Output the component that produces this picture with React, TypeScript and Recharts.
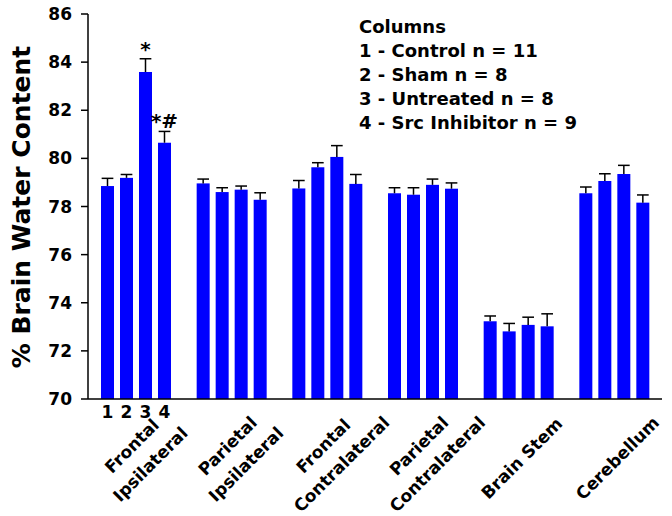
import React from 'react';
import { BarChart, Bar, XAxis, YAxis, LabelList, Customized } from 'recharts';

const categories = [
  'Frontal\nIpsilateral',
  'Parietal\nIpsilateral',
  'Frontal\nContralateral',
  'Parietal\nContralateral',
  'Brain Stem',
  'Cerebellum',
];

// group means (% brain water)
const control = [78.85, 78.96, 78.75, 78.55, 73.23, 78.55];
const sham = [79.19, 78.6, 79.63, 78.49, 72.81, 79.06];
const untreated = [83.59, 78.7, 80.06, 78.9, 73.08, 79.35];
const srcInhibitor = [80.65, 78.28, 78.94, 78.74, 73.02, 78.16];

// SEM, drawn upward only
const controlErr = [0.32, 0.18, 0.33, 0.23, 0.22, 0.26];
const shamErr = [0.14, 0.18, 0.19, 0.29, 0.33, 0.3];
const untreatedErr = [0.55, 0.15, 0.47, 0.24, 0.32, 0.36];
const srcInhibitorErr = [0.47, 0.29, 0.39, 0.24, 0.52, 0.32];

const untreatedMarks = ['*', '', '', '', '', ''];
const srcInhibitorMarks = ['*#', '', '', '', '', ''];

const yTicks = [70, 72, 74, 76, 78, 80, 82, 84, 86];

const legendLines = [
  'Columns',
  '1 - Control n = 11',
  '2 - Sham n = 8',
  '3 - Untreated n = 8',
  '4 - Src Inhibitor n = 9',
];

const Y_MIN = 70;
const FONT = '"DejaVu Sans", sans-serif';
const BLUE = '#0000ff';

const data = categories.map((name, i) => ({
  name,
  control: control[i],
  sham: sham[i],
  untreated: untreated[i],
  srcInhibitor: srcInhibitor[i],
  controlErr: controlErr[i],
  shamErr: shamErr[i],
  untreatedErr: untreatedErr[i],
  srcInhibitorErr: srcInhibitorErr[i],
  untreatedMark: untreatedMarks[i],
  srcInhibitorMark: srcInhibitorMarks[i],
}));

const makeBarShape = (valueKey: string, errKey: string) => (props: any) => {
  const { x, y, width, height, payload } = props;
  const value = payload[valueKey];
  const pxPerUnit = height / (value - Y_MIN);
  const errPx = payload[errKey] * pxPerUnit;
  const cx = x + width / 2;
  const cap = width * 0.45;
  return (
    <g>
      <rect x={x} y={y} width={width} height={height} fill={BLUE} />
      <line x1={cx} y1={y} x2={cx} y2={y - errPx} stroke="#000" strokeWidth={1.5} />
      <line x1={cx - cap} y1={y - errPx} x2={cx + cap} y2={y - errPx} stroke="#000" strokeWidth={1.5} />
    </g>
  );
};

const makeMark = (values: number[], errs: number[], marks: string[]) => (props: any) => {
  const { x, y, width, height, index } = props;
  const mark = marks[index];
  if (!mark) return null;
  const pxPerUnit = height / (values[index] - Y_MIN);
  const top = y - errs[index] * pxPerUnit;
  return (
    <text x={x + width / 2} y={top - 3} textAnchor="middle" fontFamily={FONT} fontWeight="bold" fontSize={20} fill="#000">
      {mark}
    </text>
  );
};

const makeColumnNumber = (num: string) => (props: any) => {
  const { x, y, width, height, index } = props;
  if (index !== 0) return null;
  return (
    <text x={x + width / 2} y={y + height + 19} textAnchor="middle" fontFamily={FONT} fontWeight="bold" fontSize={17} fill="#000">
      {num}
    </text>
  );
};

// category label hung off the 2nd bar of each group (group centre = right edge of bar 2 + half the gap)
const renderCategory = (props: any) => {
  const { x, y, width, height, index } = props;
  const lines = categories[index].split('\n');
  const lh = 26;
  const twoLine = lines.length > 1;
  const cx = x + width + 3 + (twoLine ? 5 : 3);
  const cy = y + height + (twoLine ? 56 : 59);
  return (
    <g transform={`translate(${cx} ${cy})`}>
      <g transform="rotate(-45)">
        {lines.map((line, i) => (
          <text
            key={i}
            x={0}
            y={(i - (lines.length - 1) / 2) * lh}
            dy="0.36em"
            textAnchor="middle"
            fontFamily={FONT}
            fontWeight="bold"
            fontSize={17}
            fill="#000"
          >
            {line}
          </text>
        ))}
      </g>
    </g>
  );
};

const YLabel = () => (
  <text
    transform="translate(30,207) rotate(-90)"
    textAnchor="middle"
    fontFamily={FONT}
    fontWeight="bold"
    fontSize={25}
    fill="#000"
  >
    % Brain Water Content
  </text>
);

const ColumnsLegend = () => (
  <g>
    {legendLines.map((line, i) => (
      <text key={i} x={359} y={33 + i * 24} fontFamily={FONT} fontWeight="bold" fontSize={18} fill="#000">
        {line}
      </text>
    ))}
  </g>
);

export default function App() {
  return (
    <div style={{ position: 'absolute', left: 0, top: 0, width: 672, height: 516, background: '#fff' }}>
      <BarChart
        width={672}
        height={516}
        data={data}
        margin={{ top: 14, right: 10, bottom: 0, left: 0 }}
        barSize={13}
        barGap={6}
      >
        <XAxis
          dataKey="name"
          height={117}
          tickLine={false}
          tick={false}
          interval={0}
          axisLine={{ stroke: '#000', strokeWidth: 1.5 }}
        />
        <YAxis
          width={88}
          domain={[70, 86]}
          ticks={yTicks}
          allowDataOverflow
          tickSize={7}
          tickMargin={9}
          axisLine={{ stroke: '#000', strokeWidth: 1.5 }}
          tickLine={{ stroke: '#000', strokeWidth: 1.5 }}
          tick={{ fill: '#000', fontSize: 17, fontWeight: 'bold', fontFamily: FONT }}
          label={<YLabel />}
        />
        <Bar dataKey="control" fill={BLUE} isAnimationActive={false} shape={makeBarShape('control', 'controlErr')}>
          <LabelList dataKey="control" content={makeColumnNumber('1')} />
        </Bar>
        <Bar dataKey="sham" fill={BLUE} isAnimationActive={false} shape={makeBarShape('sham', 'shamErr')}>
          <LabelList dataKey="sham" content={makeColumnNumber('2')} />
          <LabelList dataKey="name" content={renderCategory} />
        </Bar>
        <Bar dataKey="untreated" fill={BLUE} isAnimationActive={false} shape={makeBarShape('untreated', 'untreatedErr')}>
          <LabelList dataKey="untreated" content={makeColumnNumber('3')} />
          <LabelList dataKey="untreatedMark" content={makeMark(untreated, untreatedErr, untreatedMarks)} />
        </Bar>
        <Bar dataKey="srcInhibitor" fill={BLUE} isAnimationActive={false} shape={makeBarShape('srcInhibitor', 'srcInhibitorErr')}>
          <LabelList dataKey="srcInhibitor" content={makeColumnNumber('4')} />
          <LabelList dataKey="srcInhibitorMark" content={makeMark(srcInhibitor, srcInhibitorErr, srcInhibitorMarks)} />
        </Bar>
        <Customized component={<ColumnsLegend />} />
      </BarChart>
    </div>
  );
}
